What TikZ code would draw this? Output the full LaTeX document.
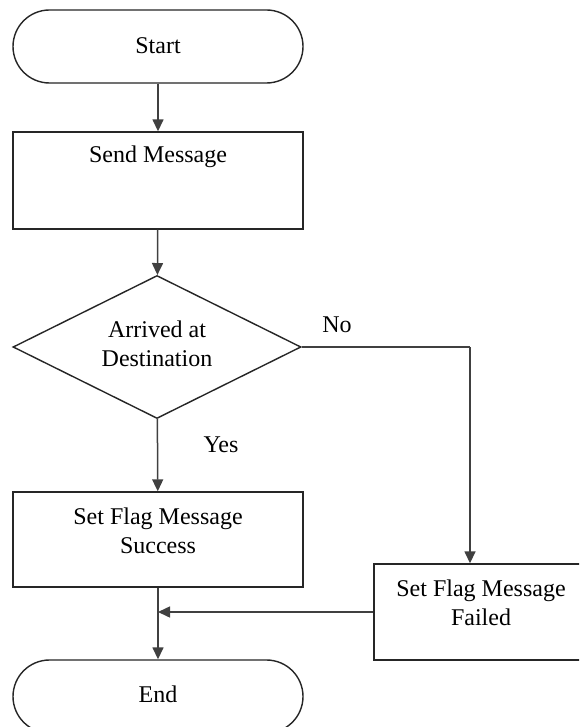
\documentclass[tikz,border=0pt]{standalone}
\usepackage{fontspec}
\setmainfont{Liberation Serif}
\newfontfamily\labelfont{Liberation Serif}
\usetikzlibrary{shapes.misc,shapes.geometric,arrows.meta}

\tikzset{
  shapeline/.style={draw=black!85, line width=1.4pt},
  terminal/.style={shapeline, rounded rectangle, minimum width=290pt, minimum height=73pt, inner sep=0pt},
  procbox/.style={shapeline, rectangle, inner sep=0pt},
  decision/.style={shapeline, diamond, inner sep=0pt},
  txt/.style={align=center, inner sep=0pt, font=\labelfont\fontsize{24}{29.5}\selectfont},
  flow/.style={draw=black!75, line width=1.5pt, -{Triangle[length=12pt,width=11pt]}},
  plain/.style={draw=black!75, line width=1.5pt}
}

\begin{document}
\begin{tikzpicture}[x=1pt,y=-1pt]
  \useasboundingbox (0,0) rectangle (579,727);
  \clip (0,0) rectangle (579,727);
  \fill[white] (0,0) rectangle (579,727);

  % terminals
  \node[terminal] (start) at (158,46.5) {};
  \node[txt] (starttxt) at (158,46) {Start};

  \node[terminal] (finish) at (158,696.5) {};
  \node[txt] (finishtxt) at (158,694) {End};

  % send step
  \node[procbox, minimum width=290pt, minimum height=97pt] (send) at (158,180.5) {};
  \node[txt] (sendtxt) at (158,157) {Send Message};

  % decision
  \node[decision, minimum width=288pt, minimum height=143pt] (dia) at (157,347) {};
  \node[txt] (diatxt) at (157,344) {Arrived at\\Destination};

  % outcome boxes
  \node[procbox, minimum width=290pt, minimum height=95pt] (success) at (158,539.5) {};
  \node[txt] (successtxt) at (158,531) {Set Flag Message\\Success};

  \node[procbox, minimum width=214pt, minimum height=96pt] (failed) at (481,612) {};
  \node[txt] (failedtxt) at (481,603) {Set Flag Message\\Failed};

  % branch labels
  \node[txt] (nolbl) at (337,325) {No};
  \node[txt] (yeslbl) at (221,445) {Yes};

  % connectors
  \draw[flow] (start) -- (send);
  \draw[flow] (send) -- (dia);
  \draw[flow] (dia) -- (success);
  \coordinate (noturn) at (470,347);
  \draw[plain] (dia.east) -- (noturn);
  \draw[flow] (noturn) -- (noturn |- failed.north);
  \draw[flow] (failed.west) -- (failed.west -| success.south);
  \draw[flow] (success) -- (finish);
\end{tikzpicture}
\end{document}
